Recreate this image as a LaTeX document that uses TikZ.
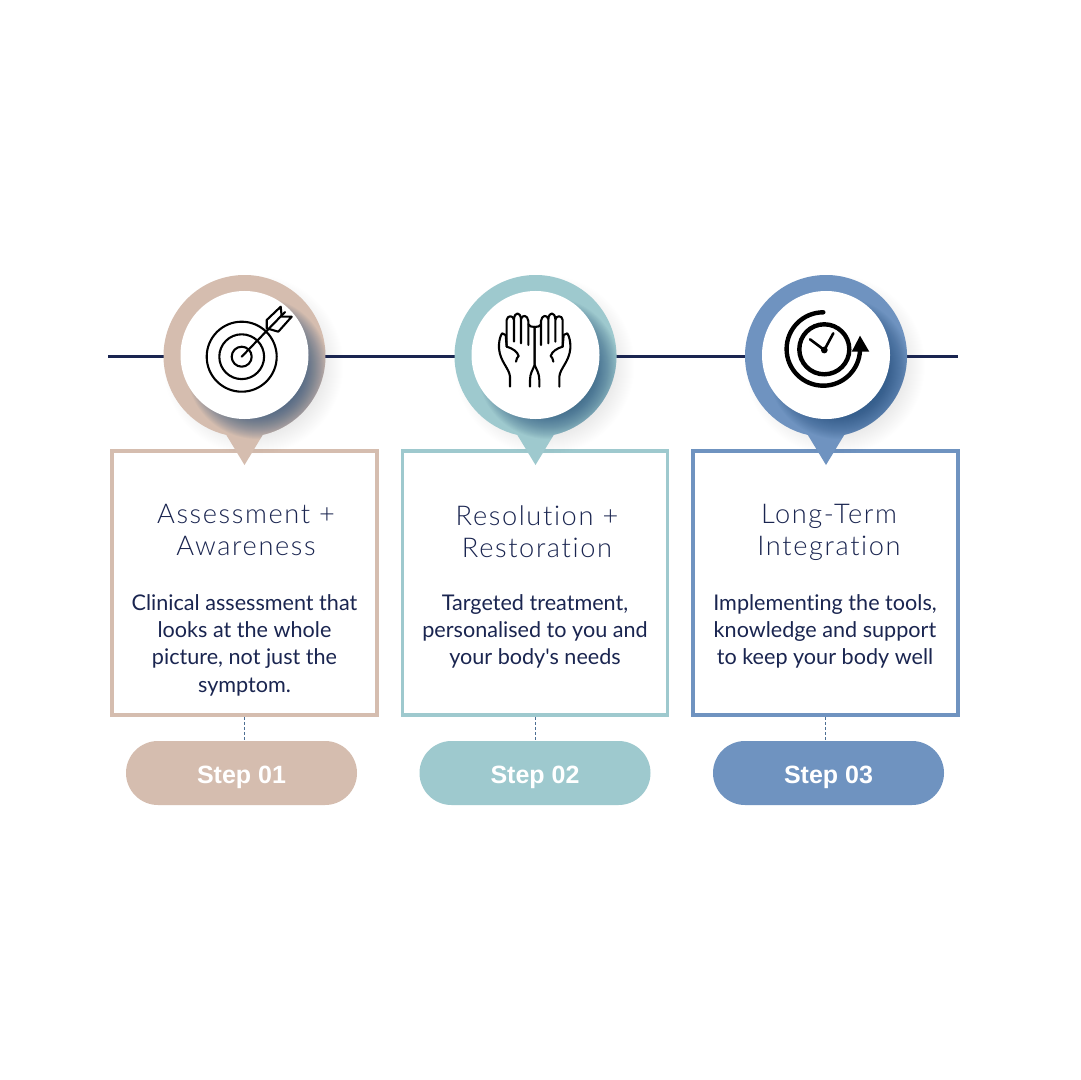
\documentclass[tikz,border=0pt]{standalone}
\usepackage{fontspec}
\setmainfont{Lato}
\newfontfamily\bodyfont[Ligatures=NoCommon]{Lato}
\newfontfamily\headfont[LetterSpace=6,Ligatures=NoCommon]{Lato Light}
\newfontfamily\stepfont{Liberation Sans}
\usetikzlibrary{shapes.misc}
\definecolor{navy}{HTML}{1A2550}
\definecolor{tan}{HTML}{D5BDAF}
\definecolor{teal}{HTML}{9EC9CE}
\definecolor{steel}{HTML}{6F93C0}
\definecolor{shadowblue}{HTML}{1F4A78}
\tikzset{
  x=.5pt,y=-.5pt,
  ringnode/.style={circle,inner sep=0pt,minimum size=81pt},
  whitenode/.style={circle,fill=white,inner sep=0pt,minimum size=64pt},
  cardbox/.style={draw,line width=1.9pt,fill=white,inner sep=0pt,minimum width=132.5pt,minimum height=132pt},
  pillnode/.style={rounded rectangle,inner sep=0pt,minimum width=115.5pt,minimum height=32pt,text=white,font=\stepfont\bfseries\fontsize{12.5}{15}\selectfont},
  headtext/.style={align=center,text=navy,inner sep=0pt,font=\headfont\fontsize{13.6}{16}\selectfont},
  bodytext/.style={align=center,text=navy,inner sep=0pt,font=\bodyfont\fontsize{10.8}{13.65}\selectfont},
  linkline/.style={dash pattern=on 1.5pt off 1pt,line width=.3pt,draw=shadowblue!80},
  iconline/.style={line width=1.05pt,line cap=round,line join=round,draw=black},
  iconheavy/.style={line width=2.2pt,line cap=round,draw=black},
}
\newcommand{\teardrop}[1]{(#1,465) -- ([shift={(-77:40.5pt)}]#1,356) arc[start angle=-77,end angle=257,radius=40.5pt] -- cycle}
\newcommand{\steplabel}[1]{\raisebox{-5.4pt}[0pt][0pt]{#1}}
\newcommand{\handpart}{%
  \draw[iconline] (60,245) -- (60,215) .. controls (58,190) and (30,170) .. (27,130)
    .. controls (26,110) and (30,95) .. (36,85) -- (47,90) -- (50,125)
    .. controls (68,130) and (82,140) .. (86,153) .. controls (82,156) and (79,162) .. (78,170);
  \draw[iconline] (50,125) -- (50,45) .. controls (52,30) and (70,30) .. (72,45) -- (72,110);
  \draw[iconline] (72,42) .. controls (74,20) and (91,20) .. (93,42) -- (93,115);
  \draw[iconline] (93,42) .. controls (97,28) and (113,30) .. (115,48) -- (115,120);
  \draw[iconline] (115,58) .. controls (118,64) and (124,66) .. (134,66);
  \draw[iconline] (134,66) -- (134,180) .. controls (128,195) and (120,205) .. (120,225) -- (120,245);
}
\begin{document}
\begin{tikzpicture}
\useasboundingbox (0,0) rectangle (1080,1080);
\fill[white] (0,0) rectangle (1080,1080);
\coordinate (lineL) at (108,356.5);
\coordinate (lineR) at (958,356.5);
\draw[navy,line width=1.5pt] (lineL) -- (lineR);

% cards first, the pointers sit on top of them
\node[cardbox,draw=tan]   (b1) at (244.5,583) {};
\node[cardbox,draw=teal]  (b2) at (535,583) {};
\node[cardbox,draw=steel] (b3) at (825.7,583) {};

\foreach \i/\cx/\col in {1/244.5/tan,2/535.5/teal,3/826/steel}{
  % soft outer shadow
  \foreach \r in {90,89,...,70}{
    \fill[shadowblue,opacity=.005] (\cx+9,365) circle[radius=\r*.5pt];
  }
  \fill[\col] \teardrop{\cx};
  \node[ringnode] (r\i) at (\cx,356) {};
  % shadow of the white disc, on the ring only
  \begin{scope}
    \clip \teardrop{\cx};
    \foreach \r in {71,70,...,45}{
      \fill[shadowblue,opacity=.04] (\cx+13,368) circle[radius=\r*.5pt];
    }
  \end{scope}
  \node[whitenode] (w\i) at (\cx,355) {};
}

% target icon
\draw[iconline] (241.7,356.7) circle[radius=17.5pt];
\draw[iconline] (241.7,356.7) circle[radius=11.2pt];
\draw[iconline] (241.7,356.7) circle[radius=5pt];
\draw[iconline] (241.7,356.7) -- (285,312);
\draw[iconline] (280.7,306.7) -- (266.7,320) -- (266.7,328.3) -- (278.3,331.7) -- (291.7,316.7) -- (281.7,316.7) -- cycle;

% hands icon
\begin{scope}[shift={(490,305)},x=.16667pt,y=-.16667pt]\handpart\end{scope}
\begin{scope}[shift={(579.33,305)},xscale=-1,x=.16667pt,y=-.16667pt]\handpart\end{scope}

% clock icon
\draw[iconheavy] (824.3,349.3) circle[radius=12.5pt];
\fill[black] (824.3,350) circle[radius=1.7pt];
\draw[iconline,line width=1.3pt] (824.3,350) -- (810,339.3);
\draw[iconline,line width=1.3pt] (824.3,350) -- (833.3,333.3);
\draw[iconheavy] (823.3,312.3) arc[start angle=90,end angle=358,radius=18.35pt];
\fill[black] (860,335.7) -- (851.7,351.7) -- (869.3,351.7) -- cycle;

% texts
\node[headtext] (h1) at (246,530) {Assessment +\\Awareness};
\node[headtext] (h2) at (537,531.5) {Resolution +\\Restoration};
\node[headtext] (h3) at (829,532) {Long-Term\\Integration};
\node[bodytext] (t1) at (244.5,645) {Clinical assessment that\\looks at the whole\\picture, not just the\\symptom.};
\node[bodytext] (t2) at (535,631.5) {Targeted treatment,\\personalised to you and\\your body's needs};
\node[bodytext] (t3) at (825,631.5) {Implementing the tools,\\knowledge and support\\to keep your body well};

% pills and links
\node[pillnode,fill=tan]   (p1) at (241.5,773) {\steplabel{Step 01}};
\node[pillnode,fill=teal]  (p2) at (535,773) {\steplabel{Step 02}};
\node[pillnode,fill=steel] (p3) at (828.5,773) {\steplabel{Step 03}};
\draw[linkline] (b1.south) -- (b1.south |- p1.north);
\draw[linkline] (b2.south) -- (b2.south |- p2.north);
\draw[linkline] (b3.south) -- (b3.south |- p3.north);
\end{tikzpicture}
\end{document}
